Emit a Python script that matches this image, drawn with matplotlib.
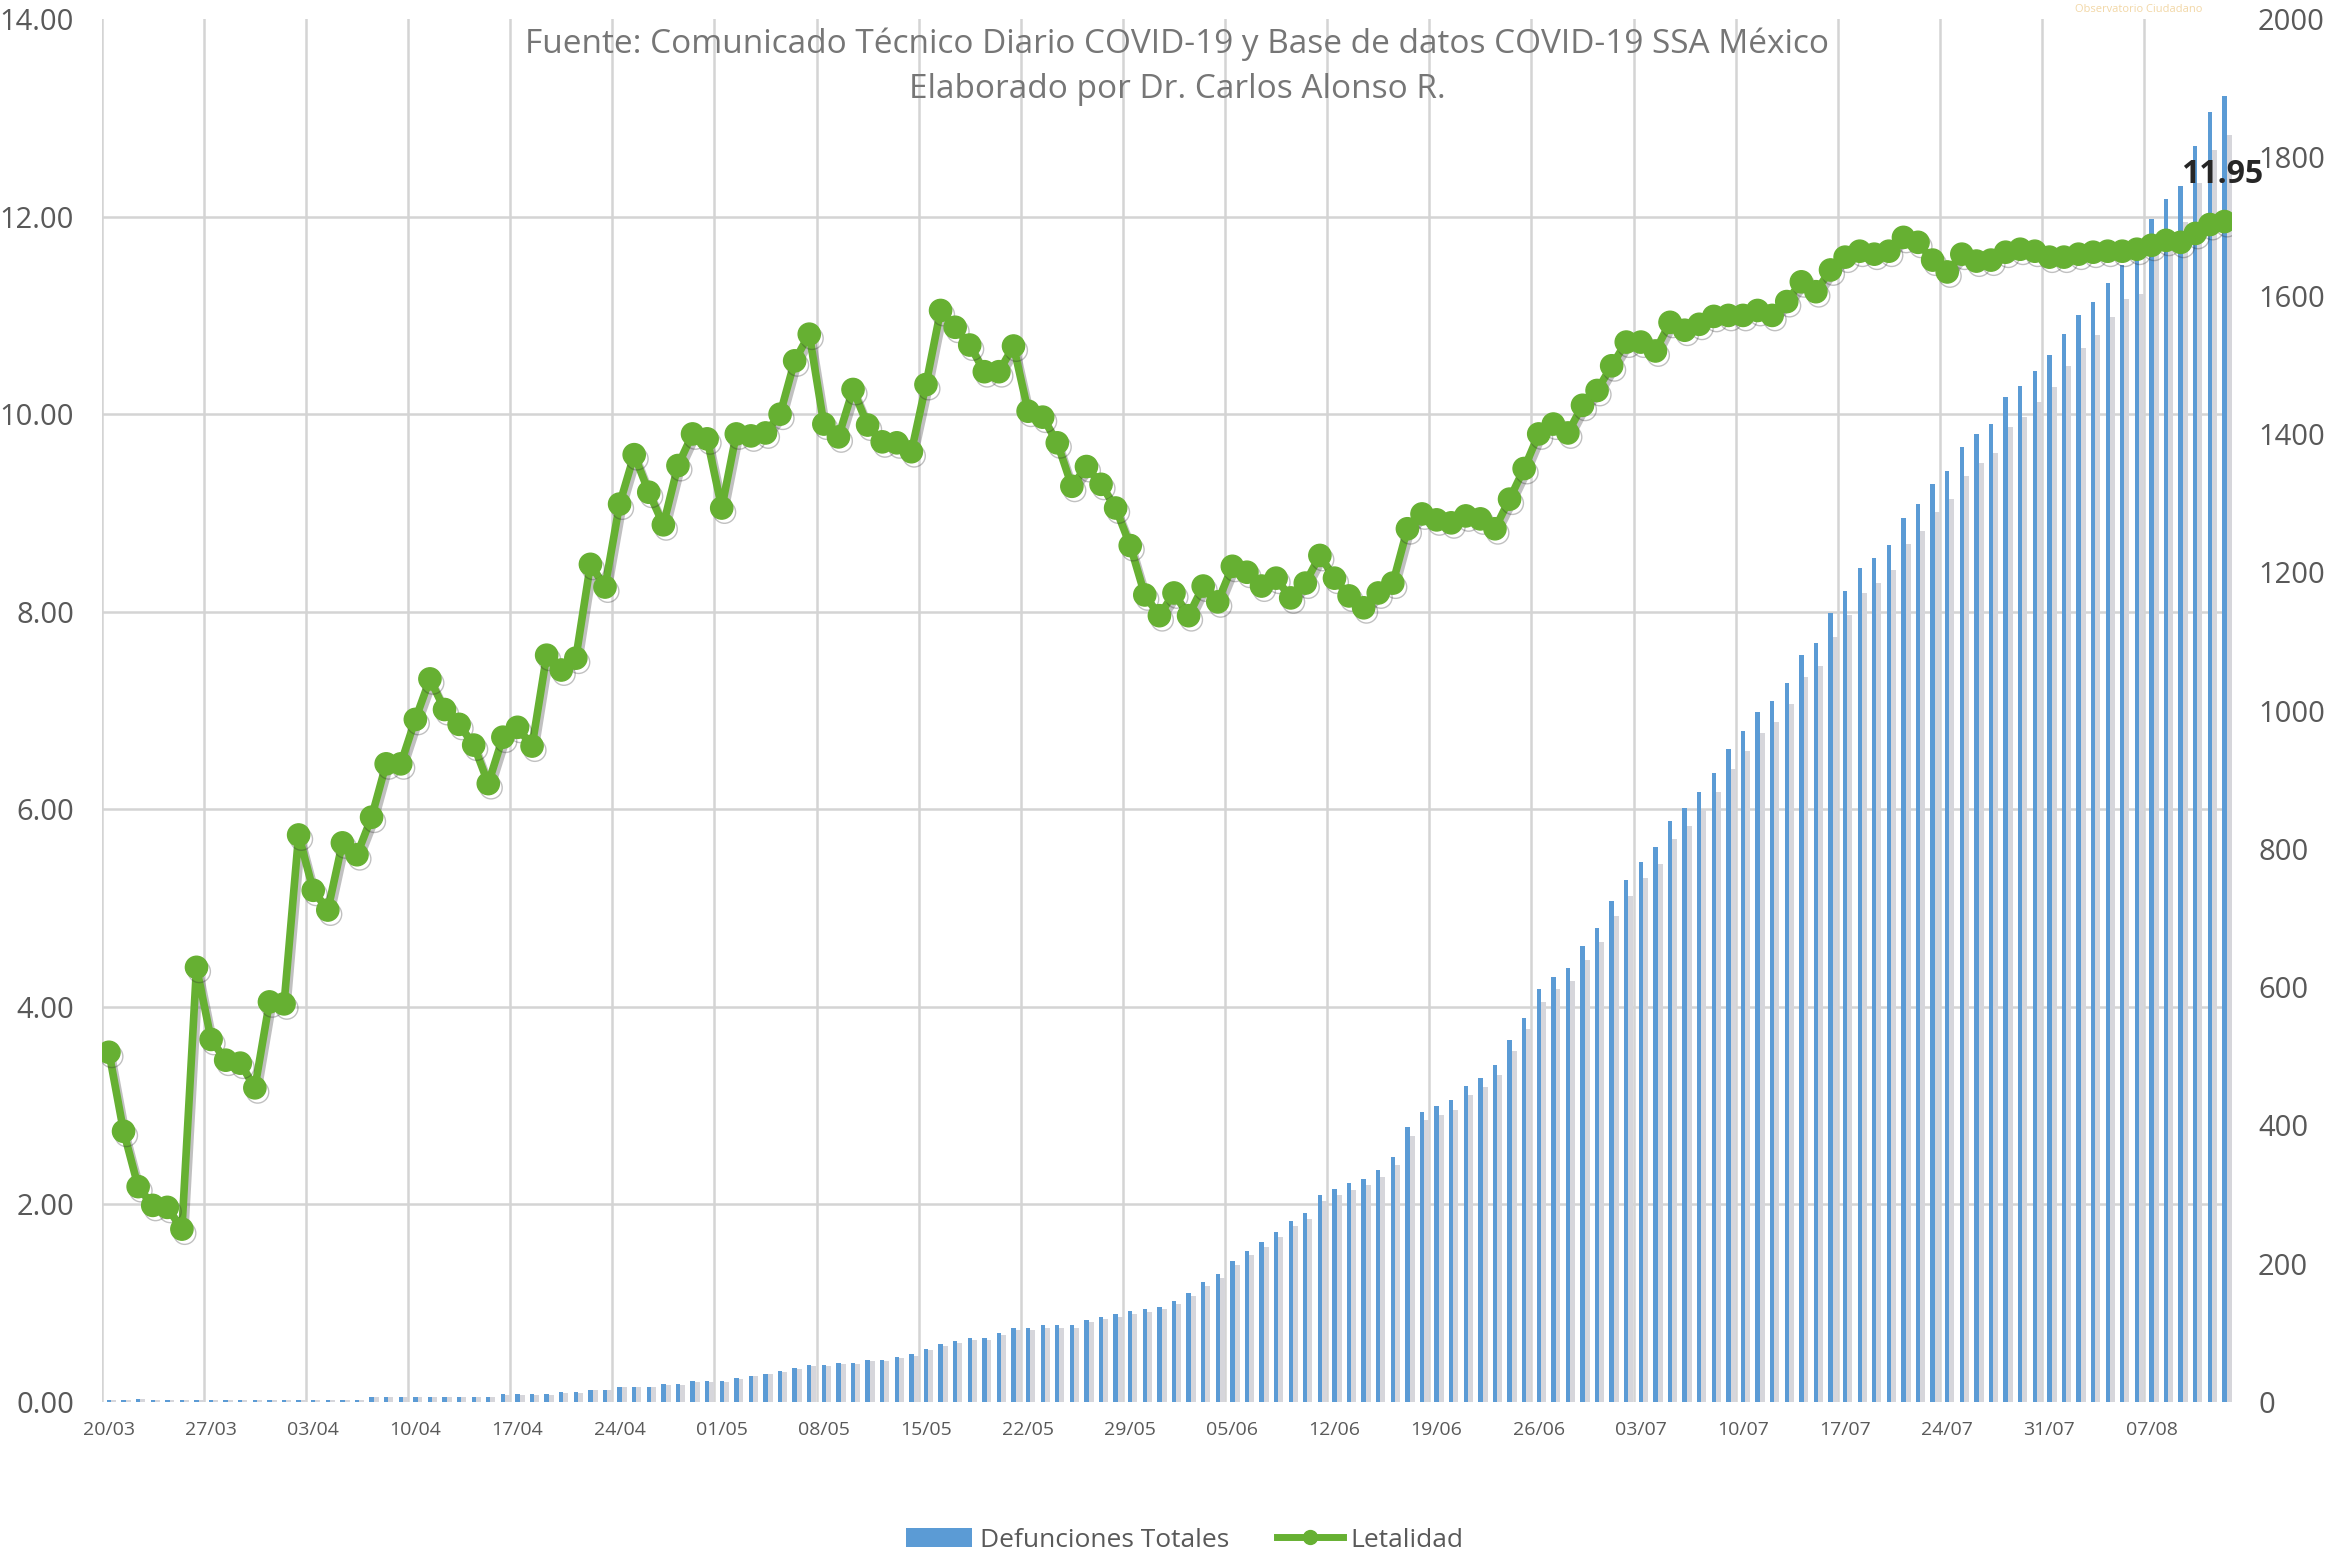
import numpy as np
import matplotlib.pyplot as plt
import matplotlib.patheffects as pe
from matplotlib.patches import Patch
from matplotlib.lines import Line2D

plt.rcParams['font.family'] = ['Open Sans', 'DejaVu Sans']

# one value per day, 20/03 -> 12/08
tick_labels = ['20/03', '27/03', '03/04', '10/04', '17/04', '24/04', '01/05', '08/05',
               '15/05', '22/05', '29/05', '05/06', '12/06', '19/06', '26/06', '03/07',
               '10/07', '17/07', '24/07', '31/07', '07/08']

letalidad = [
    3.54, 2.74, 2.18, 1.99, 1.97, 1.75, 4.40, 3.67, 3.46, 3.43,
    3.18, 4.05, 4.03, 5.74, 5.18, 4.98, 5.66, 5.54, 5.92, 6.46,
    6.46, 6.91, 7.32, 7.01, 6.86, 6.65, 6.26, 6.73, 6.83, 6.64,
    7.56, 7.41, 7.53, 8.48, 8.25, 9.09, 9.59, 9.21, 8.88, 9.48,
    9.80, 9.75, 9.05, 9.80, 9.78, 9.81, 10.00, 10.54, 10.81, 9.90,
    9.77, 10.25, 9.89, 9.72, 9.71, 9.62, 10.30, 11.05, 10.88, 10.70,
    10.43, 10.43, 10.69, 10.03, 9.97, 9.71, 9.27, 9.47, 9.29, 9.05,
    8.67, 8.17, 7.96, 8.19, 7.96, 8.26, 8.10, 8.46, 8.40, 8.26,
    8.34, 8.14, 8.29, 8.57, 8.34, 8.16, 8.04, 8.19, 8.29, 8.84,
    8.99, 8.93, 8.90, 8.97, 8.94, 8.84, 9.14, 9.45, 9.80, 9.90,
    9.81, 10.09, 10.24, 10.49, 10.73, 10.73, 10.64, 10.93, 10.85, 10.91,
    10.99, 11.00, 11.00, 11.05, 11.00, 11.14, 11.34, 11.24, 11.46, 11.59,
    11.65, 11.62, 11.65, 11.79, 11.74, 11.56, 11.44, 11.62, 11.55, 11.56,
    11.64, 11.67, 11.65, 11.59, 11.59, 11.62, 11.64, 11.65, 11.65, 11.67,
    11.71, 11.76, 11.74, 11.83, 11.92, 11.95]

defunciones = [
    3, 3, 4, 3, 3, 3, 3, 3, 3, 3,
    3, 3, 3, 3, 3, 3, 3, 3, 7, 7,
    7, 7, 7, 7, 7, 7, 7, 11, 11, 11,
    11, 14, 14, 18, 18, 22, 22, 22, 26, 26,
    30, 30, 30, 34, 38, 41, 45, 49, 53, 53,
    57, 57, 61, 61, 65, 69, 77, 84, 88, 92,
    92, 100, 107, 107, 111, 111, 111, 119, 123, 127,
    131, 134, 138, 146, 158, 173, 185, 204, 219, 231,
    246, 262, 273, 300, 308, 316, 323, 335, 354, 397,
    420, 428, 436, 457, 469, 487, 523, 556, 597, 615,
    627, 659, 686, 724, 755, 781, 802, 840, 859, 882,
    910, 944, 971, 998, 1014, 1040, 1081, 1098, 1141, 1173,
    1206, 1221, 1240, 1279, 1298, 1327, 1346, 1381, 1400, 1415,
    1453, 1469, 1491, 1514, 1545, 1572, 1591, 1618, 1645, 1652,
    1711, 1740, 1759, 1817, 1866, 1889]

x = np.arange(len(letalidad))
sombra = np.array(defunciones) * 0.97

fig = plt.figure(figsize=(23.32, 15.51), dpi=100)
ax = fig.add_axes([0.0436, 0.0961, 0.9134, 0.8916])
ax2 = ax.twinx()

# bars with a soft grey shadow on the right
ax2.bar(x + 0.3, sombra, width=0.38, color='#d6d6db', zorder=2)
ax2.bar(x, defunciones, width=0.3, color='#5b9bd5', zorder=3)
ax2.set_ylim(0, 2000)
ax2.set_yticks(np.arange(0, 2001, 200))

# gridlines live on the bar axis so they stay behind the bars
ax2.xaxis.set_visible(True)
ax2.set_yticks(np.arange(0, 15, 2) / 14 * 2000, minor=True)
ax2.set_xticks(np.arange(-0.5, 141, 7), minor=True)
ax2.grid(which='minor', color='#d4d4d4', linewidth=1.8)
ax2.grid(which='major', visible=False)
ax2.set_axisbelow(True)
ax2.tick_params(axis='x', which='both', length=0, labelbottom=False)

ax.plot(x, letalidad, color='#66b032', linewidth=5.5, marker='o', markersize=16,
        markeredgecolor='#66b032', zorder=5,
        path_effects=[pe.SimpleLineShadow(offset=(2, -3), alpha=0.3, shadow_color='#303030'),
                      pe.Normal()])
ax.annotate('11.95', (x[-1], letalidad[-1]), xytext=(-2, 34), textcoords='offset points',
            ha='center', va='center', fontsize=23, fontweight='bold', color='#262626')
ax.set_ylim(0, 14)
ax.set_yticks(np.arange(0, 15, 2))
ax.set_yticklabels(['%.2f' % v for v in np.arange(0, 15, 2)])
ax.set_xlim(-0.5, len(x) - 0.5)
ax.set_xticks(np.arange(0, 141, 7))
ax.set_xticklabels(tick_labels)
ax.set_zorder(ax2.get_zorder() + 1)
ax.patch.set_visible(False)

for a in (ax, ax2):
    for s in a.spines.values():
        s.set_visible(False)
ax.tick_params(axis='y', length=0, labelsize=21, labelcolor='#595959', pad=20)
ax.tick_params(axis='x', which='both', length=0, labelsize=14, labelcolor='#595959', pad=14)
ax2.tick_params(axis='y', which='both', length=0, labelsize=21, labelcolor='#595959', pad=19)

fig.text(0.5047, 0.9715, 'Fuente: Comunicado Técnico Diario COVID-19 y Base de datos COVID-19 SSA México',
         ha='center', va='center', fontsize=24, color='#767676')
fig.text(0.5047, 0.9425, 'Elaborado por Dr. Carlos Alonso R.',
         ha='center', va='center', fontsize=24, color='#767676')
fig.text(0.917, 0.994, 'Observatorio Ciudadano', ha='center', va='center',
         fontsize=8, color='#f2d7a6')

handles = [Patch(facecolor='#5b9bd5'),
           Line2D([0], [0], color='#66b032', linewidth=5, marker='o', markersize=10)]
fig.legend(handles, ['Defunciones Totales', 'Letalidad'], loc='center',
           bbox_to_anchor=(0.508, 0.007), ncol=2, frameon=False, fontsize=19,
           handlelength=2.5, columnspacing=1.8, handletextpad=0.3, labelcolor='#595959')

fig.savefig('out.png', dpi=100)
